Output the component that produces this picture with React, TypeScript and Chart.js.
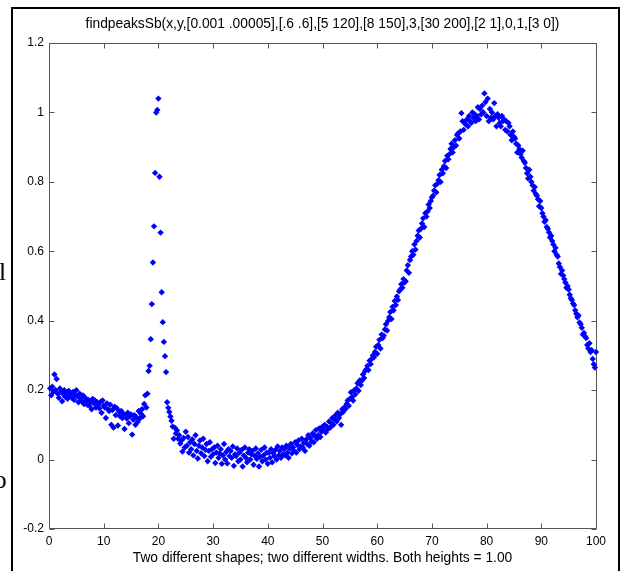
import React, { useEffect, useRef } from "react";
import { Chart, registerables } from "chart.js";

Chart.register(...registerables);

const titleText =
  "findpeaksSb(x,y,[0.001 .00005],[.6 .6],[5 120],[8 150],3,[30 200],[2 1],0,1,[3 0])";
const xLabelText = "Two different shapes; two different widths. Both heights = 1.00";

const xTicks = [0, 10, 20, 30, 40, 50, 60, 70, 80, 90, 100];
const yTicks = [-0.2, 0, 0.2, 0.4, 0.6, 0.8, 1, 1.2];

const xs = [
  0.2,0.4,0.6,0.8,1, 1.2,1.4,1.6,1.8,2, 2.2,2.4,2.6,2.8,3, 3.2,3.4,3.6,3.8,4, 4.2,4.4,4.6,4.8,5,
  5.2,5.4,5.6,5.8,6, 6.2,6.4,6.6,6.8,7, 7.2,7.4,7.6,7.8,8, 8.2,8.4,8.6,8.8,9, 9.2,9.4,9.6,9.8,10,
  10.2,10.4,10.6,10.8,11, 11.2,11.4,11.6,11.8,12, 12.2,12.4,12.6,12.8,13, 13.2,13.4,13.6,13.8,14, 14.2,14.4,14.6,14.8,15,
  15.2,15.4,15.6,15.8,16, 16.2,16.4,16.6,16.8,17, 17.2,17.4,17.6,17.8,18, 18.2,18.4,18.6,18.8,19, 19.2,19.4,19.6,19.8,20,
  20.2,20.4,20.6,20.8,21, 21.2,21.4,21.6,21.8,22, 22.2,22.4,22.6,22.8,23, 23.2,23.4,23.6,23.8,24, 24.2,24.4,24.6,24.8,25,
  25.2,25.4,25.6,25.8,26, 26.2,26.4,26.6,26.8,27, 27.2,27.4,27.6,27.8,28, 28.2,28.4,28.6,28.8,29, 29.2,29.4,29.6,29.8,30,
  30.2,30.4,30.6,30.8,31, 31.2,31.4,31.6,31.8,32, 32.2,32.4,32.6,32.8,33, 33.2,33.4,33.6,33.8,34, 34.2,34.4,34.6,34.8,35,
  35.2,35.4,35.6,35.8,36, 36.2,36.4,36.6,36.8,37, 37.2,37.4,37.6,37.8,38, 38.2,38.4,38.6,38.8,39, 39.2,39.4,39.6,39.8,40,
  40.2,40.4,40.6,40.8,41, 41.2,41.4,41.6,41.8,42, 42.2,42.4,42.6,42.8,43, 43.2,43.4,43.6,43.8,44, 44.2,44.4,44.6,44.8,45,
  45.2,45.4,45.6,45.8,46, 46.2,46.4,46.6,46.8,47, 47.2,47.4,47.6,47.8,48, 48.2,48.4,48.6,48.8,49, 49.2,49.4,49.6,49.8,50,
  50.2,50.4,50.6,50.8,51, 51.2,51.4,51.6,51.8,52, 52.2,52.4,52.6,52.8,53, 53.2,53.4,53.6,53.8,54, 54.2,54.4,54.6,54.8,55,
  55.2,55.4,55.6,55.8,56, 56.2,56.4,56.6,56.8,57, 57.2,57.4,57.6,57.8,58, 58.2,58.4,58.6,58.8,59, 59.2,59.4,59.6,59.8,60,
  60.2,60.4,60.6,60.8,61, 61.2,61.4,61.6,61.8,62, 62.2,62.4,62.6,62.8,63, 63.2,63.4,63.6,63.8,64, 64.2,64.4,64.6,64.8,65,
  65.2,65.4,65.6,65.8,66, 66.2,66.4,66.6,66.8,67, 67.2,67.4,67.6,67.8,68, 68.2,68.4,68.6,68.8,69, 69.2,69.4,69.6,69.8,70,
  70.2,70.4,70.6,70.8,71, 71.2,71.4,71.6,71.8,72, 72.2,72.4,72.6,72.8,73, 73.2,73.4,73.6,73.8,74, 74.2,74.4,74.6,74.8,75,
  75.2,75.4,75.6,75.8,76, 76.2,76.4,76.6,76.8,77, 77.2,77.4,77.6,77.8,78, 78.2,78.4,78.6,78.8,79, 79.2,79.4,79.6,79.8,80,
  80.2,80.4,80.6,80.8,81, 81.2,81.4,81.6,81.8,82, 82.2,82.4,82.6,82.8,83, 83.2,83.4,83.6,83.8,84, 84.2,84.4,84.6,84.8,85,
  85.2,85.4,85.6,85.8,86, 86.2,86.4,86.6,86.8,87, 87.2,87.4,87.6,87.8,88, 88.2,88.4,88.6,88.8,89, 89.2,89.4,89.6,89.8,90,
  90.2,90.4,90.6,90.8,91, 91.2,91.4,91.6,91.8,92, 92.2,92.4,92.6,92.8,93, 93.2,93.4,93.6,93.8,94, 94.2,94.4,94.6,94.8,95,
  95.2,95.4,95.6,95.8,96, 96.2,96.4,96.6,96.8,97, 97.2,97.4,97.6,97.8,98, 98.2,98.4,98.6,98.8,99, 99.2,99.4,99.6,99.8,100,
];

const ys = [
  0.205,0.185,0.21,0.195,0.245, 0.2,0.232,0.19,0.178,0.205, 0.195,0.168,0.188,0.2,0.18,
  0.192,0.175,0.198,0.183,0.19, 0.178,0.195,0.172,0.186,0.2, 0.182,0.165,0.19,0.175,0.168,
  0.185,0.16,0.178,0.17,0.158, 0.172,0.155,0.168,0.145,0.175, 0.162,0.17,0.15,0.165,0.158,
  0.148,0.166,0.135,0.17,0.155, 0.15,0.12,0.162,0.145,0.14, 0.158,0.1,0.143,0.092,0.152,
  0.128,0.148,0.098,0.138,0.125, 0.14,0.12,0.132,0.088,0.128, 0.118,0.135,0.105,0.125,0.13,
  0.072,0.115,0.128,0.1,0.122, 0.108,0.14,0.118,0.132,0.145, 0.125,0.16,0.185,0.15,0.19,
  0.255,0.27,0.347,0.448,0.568, 0.672,0.826,1.0,1.007,1.04, 0.815,0.654,0.482,0.396,0.339,
  0.298,0.252,0.165,0.149,0.137, 0.124,0.112,0.095,0.06,0.092, 0.075,0.084,0.06,0.07,0.046,
  0.055,0.023,0.062,0.035,0.08, 0.04,0.065,0.02,0.05,0.03, 0.058,0.012,0.045,0.07,0.025,
  0.003,0.04,0.055,0.018,0.035, 0.06,0.01,0.028,0.045,-0.005, 0.025,0.05,0.008,0.03,0.015,
  0.035,-0.01,0.02,0.04,0.005, 0.018,0.03,-0.012,0.012,0.045, 0,0.022,-0.011,0.03,0.01,
  0.025,0.005,0.038,-0.018,0.015, 0.01,0.032,-0.005,0.02,0, 0.028,-0.02,0.012,0.035,0.005,
  -0.008,0.02,0.03,0,0.015, 0.025,-0.015,0.01,0.032,0.002, 0.018,-0.02,0.008,0.028,-0.005,
  0.012,0.035,0,0.02,-0.012, 0.02,0.005,0.03,-0.008,0.018, 0.01,0.028,0,0.038,0.012,
  0.025,0.005,0.035,0.015,0.03, 0.012,0.04,0.02,0.005,0.032, 0.045,0.018,0.035,0.025,0.05,
  0.02,0.042,0.055,0.03,0.038, 0.06,0.035,0.048,0.025,0.058, 0.045,0.07,0.04,0.062,0.052,
  0.075,0.05,0.068,0.085,0.06, 0.07,0.09,0.065,0.08,0.095, 0.085,0.1,0.078,0.095,0.088,
  0.11,0.092,0.105,0.12,0.1, 0.115,0.128,0.11,0.135,0.12, 0.13,0.1,0.145,0.138,0.15,
  0.146,0.16,0.17,0.155,0.175, 0.194,0.18,0.17,0.2,0.188, 0.205,0.22,0.198,0.228,0.215,
  0.228,0.245,0.235,0.255,0.26, 0.27,0.258,0.285,0.275,0.29, 0.3,0.295,0.31,0.325,0.305,
  0.33,0.345,0.32,0.36,0.35, 0.357,0.375,0.39,0.372,0.4, 0.41,0.425,0.405,0.44,0.43,
  0.457,0.445,0.47,0.46,0.485, 0.49,0.505,0.495,0.52,0.51, 0.514,0.545,0.56,0.538,0.575,
  0.585,0.6,0.59,0.62,0.605, 0.63,0.645,0.66,0.64,0.665, 0.68,0.695,0.67,0.71,0.7,
  0.715,0.735,0.725,0.745,0.755, 0.76,0.775,0.79,0.77,0.795, 0.805,0.82,0.8,0.835,0.825,
  0.845,0.86,0.84,0.875,0.865, 0.88,0.895,0.91,0.885,0.9, 0.92,0.905,0.935,0.94,0.925,
  0.945,0.998,0.975,0.95,0.97, 0.965,0.98,0.96,0.99,0.975, 0.97,1,0.985,0.995,0.975,
  0.99,1.015,0.98,1.01,0.995, 1.02,1,1.055,1.03,0.99, 1.04,0.975,1.01,0.985,1,
  0.98,1.027,0.99,0.96,0.995, 0.985,0.97,0.96,0.99,0.975, 0.98,0.95,0.975,0.945,0.97,
  0.96,0.935,0.92,0.945,0.93, 0.925,0.91,0.885,0.905,0.895, 0.88,0.87,0.89,0.86,0.855,
  0.84,0.825,0.81,0.835,0.815, 0.8,0.79,0.775,0.785,0.765, 0.76,0.75,0.73,0.745,0.725,
  0.71,0.7,0.685,0.69,0.67, 0.665,0.655,0.64,0.645,0.63, 0.62,0.6,0.61,0.59,0.585,
  0.565,0.555,0.535,0.545,0.53, 0.52,0.51,0.495,0.5,0.49, 0.475,0.465,0.46,0.45,0.445,
  0.43,0.42,0.41,0.415,0.395, 0.39,0.38,0.36,0.365,0.355, 0.35,0.33,0.32,0.335,0.31,
  0.315,0.29,0.275,0.265,0.31,
];

const FONT = "Arial, 'Liberation Sans', Helvetica, sans-serif";
const AXIS_COLOR = "#555555";
const LABEL_SIZE = 13.8;
const TICK_SIZE = 12;

const boxTicksPlugin = {
  id: "boxTicks",
  beforeDatasetsDraw(chart: any) {
    const { ctx, chartArea: a, scales } = chart;
    const sx = scales.x;
    const sy = scales.y;
    const L = Math.floor(a.left) + 0.5;
    const R = Math.floor(a.right) + 0.5;
    const T = Math.floor(a.top) + 0.5;
    const B = Math.floor(a.bottom) - 0.5;
    const len = 5;
    ctx.save();
    ctx.strokeStyle = AXIS_COLOR;
    ctx.lineWidth = 1;
    ctx.beginPath();
    ctx.rect(L, T, R - L, B - T);
    for (const v of xTicks) {
      const px = Math.round(sx.getPixelForValue(v)) + 0.5;
      ctx.moveTo(px, B);
      ctx.lineTo(px, B - len);
      ctx.moveTo(px, T);
      ctx.lineTo(px, T + len);
    }
    for (const v of yTicks) {
      const py = Math.round(sy.getPixelForValue(v)) + 0.5;
      ctx.moveTo(L, py);
      ctx.lineTo(L + len, py);
      ctx.moveTo(R, py);
      ctx.lineTo(R - len, py);
    }
    ctx.stroke();
    ctx.restore();
  },
};

export default function App() {
  const canvasRef = useRef<HTMLCanvasElement | null>(null);

  useEffect(() => {
    const canvas = canvasRef.current;
    if (!canvas) return;
    const points = xs.map((x, i) => ({ x, y: ys[i] }));
    const chart = new Chart(canvas, {
      type: "scatter",
      data: {
        datasets: [
          {
            data: points,
            pointStyle: "rectRot",
            pointRadius: 3.2,
            pointHoverRadius: 3.2,
            backgroundColor: "#0000ff",
            borderWidth: 0,
            clip: false as any,
          },
        ],
      },
      options: {
        responsive: false,
        animation: false,
        devicePixelRatio: 1,
        layout: { padding: { left: 0, right: 25, top: 0, bottom: 0 } },
        plugins: {
          legend: { display: false },
          tooltip: { enabled: false },
          title: {
            display: true,
            fullSize: false,
            text: titleText,
            color: "#000",
            font: { family: FONT, size: LABEL_SIZE, weight: "normal" },
            padding: { top: 15.5, bottom: 11 },
          },
        },
        scales: {
          x: {
            type: "linear",
            min: 0,
            max: 100,
            afterFit: (s: any) => {
              s.height = 42;
            },
            afterBuildTicks: (s: any) => {
              s.ticks = xTicks.map((v) => ({ value: v }));
            },
            ticks: {
              color: "#000",
              font: { family: FONT, size: TICK_SIZE },
              padding: 5,
              maxRotation: 0,
              autoSkip: false,
            },
            grid: { display: false, drawTicks: false },
            border: { display: false },
            title: {
              display: true,
              text: xLabelText,
              color: "#000",
              font: { family: FONT, size: LABEL_SIZE },
              padding: { top: 0, bottom: 4.2 },
            },
          },
          y: {
            type: "linear",
            min: -0.2,
            max: 1.2,
            afterFit: (s: any) => {
              s.width = 49;
            },
            afterBuildTicks: (s: any) => {
              s.ticks = yTicks.map((v) => ({ value: v }));
            },
            ticks: {
              color: "#000",
              font: { family: FONT, size: TICK_SIZE },
              padding: 5,
              autoSkip: false,
              callback: (v: any) => String(Number(Number(v).toFixed(1))),
            },
            grid: { display: false, drawTicks: false },
            border: { display: false },
          },
        },
      },
      plugins: [boxTicksPlugin],
    });
    return () => chart.destroy();
  }, []);

  return (
    <div
      style={{
        position: "absolute",
        left: 0,
        top: 0,
        width: 621,
        height: 571,
        overflow: "hidden",
        background: "#fff",
      }}
    >
      <div
        style={{
          position: "absolute",
          left: 11,
          top: 7,
          width: 609,
          height: 620,
          boxSizing: "border-box",
          border: "2px solid #000",
          borderBottom: "none",
        }}
      />
      <span
        style={{
          position: "absolute",
          left: -1,
          top: 259,
          fontFamily: "'Liberation Serif', 'Times New Roman', serif",
          fontSize: 25,
          lineHeight: 1,
          color: "#000",
        }}
      >
        l
      </span>
      <span
        style={{
          position: "absolute",
          left: -6,
          top: 467,
          fontFamily: "'Liberation Serif', 'Times New Roman', serif",
          fontSize: 25,
          lineHeight: 1,
          color: "#000",
        }}
      >
        o
      </span>
      <canvas
        ref={canvasRef}
        width={621}
        height={571}
        style={{ position: "absolute", left: 0, top: 0, width: 621, height: 571 }}
      />
    </div>
  );
}
